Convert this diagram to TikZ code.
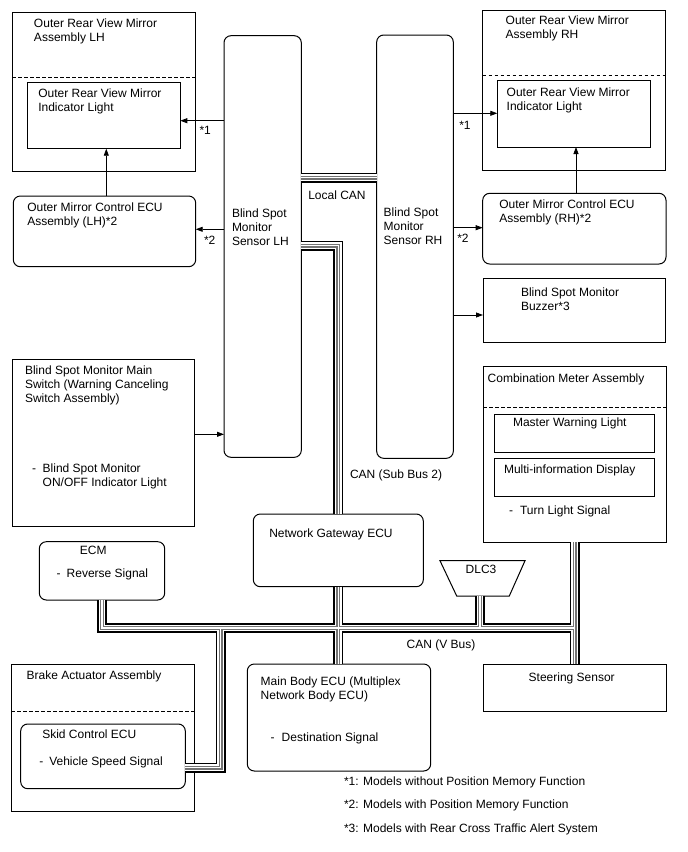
\documentclass[tikz,border=0pt]{standalone}
\usepackage{fontspec}
\setmainfont{Liberation Sans}
\usetikzlibrary{arrows.meta,fit}
\begin{document}
\begin{tikzpicture}[x=1pt,y=-1pt,
  box/.style={draw, line width=1pt, inner sep=0pt, outer sep=0pt},
  rbox/.style={box, rounded corners=7pt},
  lbl/.style={anchor=base west, inner sep=0pt, outer sep=0pt, align=left, font=\fontsize{12}{14}\selectfont},
  lblc/.style={lbl, anchor=base},
  arr/.style={line width=0.8pt, -{Triangle[length=7pt,width=5pt]}},
  dsh/.style={line width=1pt, dash pattern=on 3.5pt off 2.5pt},
]
\useasboundingbox (0,0) rectangle (688,852);

% ---- boxes
\node[box,  fit={(12.3,12.3) (195.7,171.7)}] (asmL) {};
\node[box,  fit={(27.7,82) (180.3,148.7)}] (indL) {};
\node[rbox, fit={(13.3,196) (195.7,266.7)}] (ecuL) {};
\node[rbox, fit={(224,35.7) (301.3,457.3)}] (sensL) {};
\node[rbox, fit={(376.7,35) (453.3,458.3)}] (sensR) {};
\node[box,  fit={(482.7,10) (665.7,170.3)}] (asmR) {};
\node[box,  fit={(497.3,80.3) (650.7,147)}] (indR) {};
\node[rbox, fit={(482.7,193.3) (666,264)}] (ecuR) {};
\node[box,  fit={(483,278) (665,342)}] (buzz) {};
\node[box,  fit={(12.3,359) (194.3,526)}] (sw) {};
\node[box,  fit={(483.3,366) (666,542)}] (comb) {};
\node[box,  fit={(494.3,414) (654.7,452)}] (mwl) {};
\node[box,  fit={(494.3,458.3) (654.7,496.7)}] (mid) {};
\node[rbox, fit={(253.3,514) (423.3,586.7)}] (gw) {};
\node[rbox, fit={(39.3,541.7) (164.7,600)}] (ecm) {};
\node[box,  fit={(483.3,664.3) (666.7,711)}] (steer) {};
\node[rbox, fit={(247.3,664) (430.7,771)}] (mb) {};
\node[box,  fit={(11,664) (194.3,811)}] (brake) {};
\node[rbox, fit={(20.7,724) (185.3,788.7)}] (skid) {};
\draw[line width=1pt, line join=miter] (440,560.7) -- (525,560.7) -- (509.3,596) -- (456.7,596) -- cycle;
\coordinate (dlcb) at (480,596);

% ---- dashed separators
\draw[dsh] (asmL.west |- 0,77) -- (asmL.east |- 0,77);
\draw[dsh] (asmR.west |- 0,75) -- (asmR.east |- 0,75);
\draw[dsh] (comb.west |- 0,407) -- (comb.east |- 0,407);
\draw[dsh] (brake.west |- 0,711) -- (brake.east |- 0,711);

% ---- buses
\coordinate (skj) at (220.5,628);
\foreach \w/\c in {10/black,6.4/white,4/black!55,1.4/white}{
  \draw[line width=\w pt, draw=\c, line join=miter, line cap=butt]
    (sensL.east |- 0,177.5) -- (sensR.west |- 0,177.5)
    (sensL.east |- 0,245.5) -| (gw.north)
    (ecm.south) |- (comb.south |- 0,628)
    (comb.south) -- (comb.south |- steer.north)
    (gw.south) -- (gw.south |- mb.north)
    (dlcb) -- (dlcb |- 0,628)
    (skj) |- (skid.east |- 0,767.5);
}

% ---- arrows
\draw[arr] (sensL.west |- 0,120.7) -- (indL.east |- 0,120.7);
\draw[arr] (sensL.west |- 0,229.3) -- (ecuL.east |- 0,229.3);
\draw[arr] (ecuL.north -| 106.3,0) -- (indL.south -| 106.3,0);
\draw[arr] (sw.east |- 0,434.3) -- (sensL.west |- 0,434.3);
\draw[arr] (sensR.east |- 0,113.3) -- (indR.west |- 0,113.3);
\draw[arr] (sensR.east |- 0,227.7) -- (ecuR.west |- 0,227.7);
\draw[arr] (sensR.east |- 0,315) -- (buzz.west |- 0,315);
\draw[arr] (ecuR.north -| 576,0) -- (indR.south -| 576,0);

% ---- texts (base anchor = last line baseline)
\node[lbl] (tAsmL) at (34,41) {Outer Rear View Mirror\\Assembly LH};
\node[lbl] (tIndL) at (38.3,111.6) {Outer Rear View Mirror\\Indicator Light};
\node[lbl] (tEcuL) at (27.3,225.6) {Outer Mirror Control ECU\\Assembly (LH)*2};
\node[lbl] (s1L) at (199.5,134) {*1};
\node[lbl] (s2L) at (204,244) {*2};
\node[lbl] (tSensL) at (232,245.6) {Blind Spot\\Monitor\\Sensor LH};
\node[lbl] (tLocal) at (308.3,199.3) {Local CAN};
\node[lbl] (tSensR) at (383.7,244.6) {Blind Spot\\Monitor\\Sensor RH};
\node[lbl] (tAsmR) at (505.7,38.3) {Outer Rear View Mirror\\Assembly RH};
\node[lbl] (tIndR) at (506.7,110) {Outer Rear View Mirror\\Indicator Light};
\node[lbl] (s1R) at (459.3,129) {*1};
\node[lbl] (tEcuR) at (499.3,222.3) {Outer Mirror Control ECU\\Assembly (RH)*2};
\node[lbl] (s2R) at (457.3,242) {*2};
\node[lbl] (tBuzz) at (521,310) {Blind Spot Monitor\\Buzzer*3};
\node[lbl] (tSw) at (25,402.3) {Blind Spot Monitor Main\\Switch (Warning Canceling\\Switch Assembly)};
\node[lbl] (dSw) at (32,472.6) {-};
\node[lbl] (tSwI) at (42.7,486.6) {Blind Spot Monitor\\ON/OFF Indicator Light};
\node[lbl] (tSub) at (350,478.6) {CAN (Sub Bus 2)};
\node[lbl] (tComb) at (487.7,382) {Combination Meter Assembly};
\node[lbl] (tMwl) at (513,426.6) {Master Warning Light};
\node[lbl] (tMid) at (504,473.3) {Multi-information Display};
\node[lbl] (dTurn) at (509,514.3) {-};
\node[lbl] (tTurn) at (520,514.3) {Turn Light Signal};
\node[lbl] (tGw) at (269.3,537.6) {Network Gateway ECU};
\node[lblc] (tEcm) at (93.3,554.3) {ECM};
\node[lbl] (dRev) at (56.7,577.6) {-};
\node[lbl] (tRev) at (66.7,577.6) {Reverse Signal};
\node[lblc] (tDlc) at (481,573.3) {DLC3};
\node[lbl] (tVbus) at (406.7,648.3) {CAN (V Bus)};
\node[lblc] (tSteer) at (571.7,681) {Steering Sensor};
\node[lbl] (tMb) at (260.7,699.3) {Main Body ECU (Multiplex\\Network Body ECU)};
\node[lbl] (dDest) at (270.7,741.6) {-};
\node[lbl] (tDest) at (281.7,741.6) {Destination Signal};
\node[lbl] (tBrake) at (26.7,679.3) {Brake Actuator Assembly};
\node[lbl] (tSkid) at (42.3,738.3) {Skid Control ECU};
\node[lbl] (dVeh) at (39.3,765) {-};
\node[lbl] (tVeh) at (49.3,765) {Vehicle Speed Signal};
\node[lbl] (fn1) at (344,785.3) {*1: Models without Position Memory Function};
\node[lbl] (fn2) at (344,808.3) {*2: Models with Position Memory Function};
\node[lbl] (fn3) at (344,832.6) {*3: Models with Rear Cross Traffic Alert System};
\end{tikzpicture}
\end{document}
